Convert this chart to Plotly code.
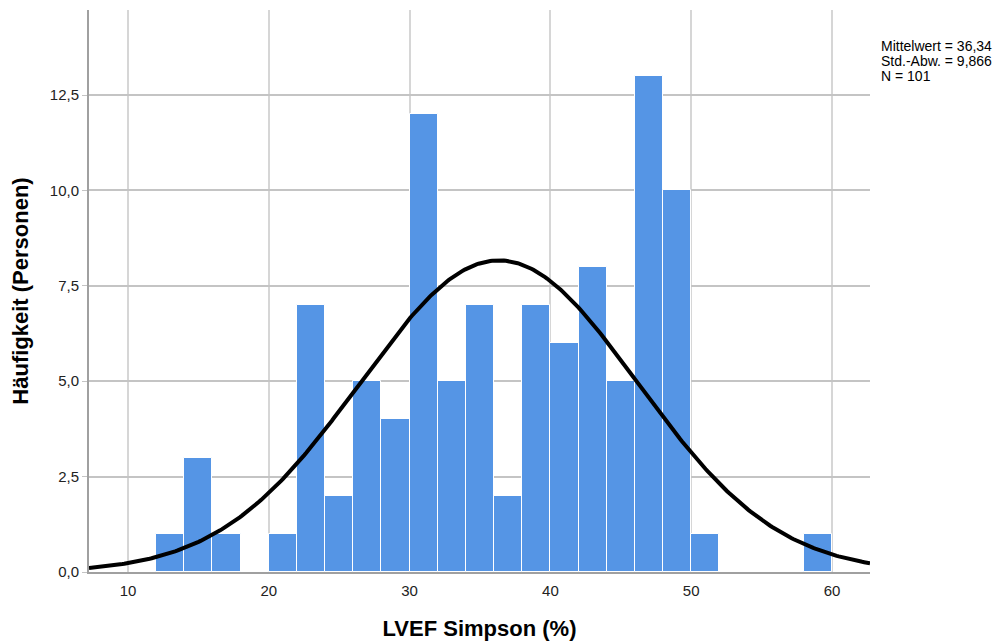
import numpy as np
import plotly.graph_objects as go

# Histogram data (bin centers, counts); bins of width 2 from 12 to 60
bin_centers = [13, 15, 17, 19, 21, 23, 25, 27, 29, 31, 33, 35, 37, 39, 41, 43, 45, 47, 49, 51, 53, 55, 57, 59]
counts =      [1,  3,  1,  0,  1,  7,  2,  5,  4,  12, 5,  7,  2,  7,  6,  8,  5,  13, 10, 1,  0,  0,  0,  1]
bin_width = 2

# Summary statistics shown on the chart
mean_val = 36.34
sd_val = 9.866
n_val = 101

x_ticks = [10, 20, 30, 40, 50, 60]
y_ticks = [0, 2.5, 5.0, 7.5, 10.0, 12.5]
y_tick_labels = ["0,0", "2,5", "5,0", "7,5", "10,0", "12,5"]

x_range = [7.23, 62.7]
y_range = [0, 14.73]

stat_lines = [
    "Mittelwert = " + str(mean_val).replace(".", ","),
    "Std.-Abw. = " + str(sd_val).replace(".", ","),
    "N = " + str(n_val),
]

# Normal curve scaled to histogram counts
xc = np.linspace(x_range[0], x_range[1], 400)
yc = n_val * bin_width / (sd_val * np.sqrt(2 * np.pi)) * np.exp(-0.5 * ((xc - mean_val) / sd_val) ** 2)

fig = go.Figure()
fig.add_trace(go.Bar(
    x=bin_centers, y=counts, width=[bin_width] * len(bin_centers),
    marker=dict(color="rgb(85,149,229)", line=dict(color="white", width=1)),
    hoverinfo="x+y", showlegend=False,
))
fig.add_trace(go.Scatter(
    x=xc, y=yc, mode="lines", line=dict(color="black", width=4),
    showlegend=False, hoverinfo="skip",
))

plot_h = 633 - 2 - 69
annotations = []
for i, line in enumerate(stat_lines):
    center_px = 38 + 8 + 15 * i  # pixel center in page coords, relative to plot top at 10
    annotations.append(dict(
        xref="paper", yref="paper", x=1.0115, y=1 - (center_px - 10) / plot_h,
        xanchor="left", yanchor="middle", align="left", showarrow=False,
        text=line, font=dict(size=14, color="black"),
    ))

fig.update_layout(
    width=1000, height=633,
    margin=dict(l=81, r=138, t=2, b=69, autoexpand=False),
    paper_bgcolor="white", plot_bgcolor="white",
    font=dict(family="Liberation Sans, Arial, sans-serif", color="#222"),
    bargap=0,
    xaxis=dict(
        range=x_range, tickvals=x_ticks, ticktext=[str(v) for v in x_ticks],
        showgrid=True, gridcolor="#d6d6d6", gridwidth=2,
        showline=True, linecolor="#a0a0a0", linewidth=2,
        ticks="", zeroline=False, automargin=False, ticklabelstandoff=4,
        tickfont=dict(size=15, color="#222"),
        title=dict(text="<b>LVEF Simpson (%)</b>", font=dict(size=22, color="black"), standoff=28),
    ),
    yaxis=dict(
        range=y_range, tickvals=y_ticks, ticktext=y_tick_labels,
        showgrid=True, gridcolor="#c4c4c4", gridwidth=2,
        showline=True, linecolor="#a0a0a0", linewidth=2,
        ticks="outside", ticklen=5, tickcolor="#c4c4c4", zeroline=False, automargin=False,
        tickfont=dict(size=15, color="#222"),
        title=dict(text="<b>Häufigkeit (Personen)</b>", font=dict(size=22, color="black"), standoff=20),
    ),
    annotations=annotations,
)

fig.write_html("out.html")
